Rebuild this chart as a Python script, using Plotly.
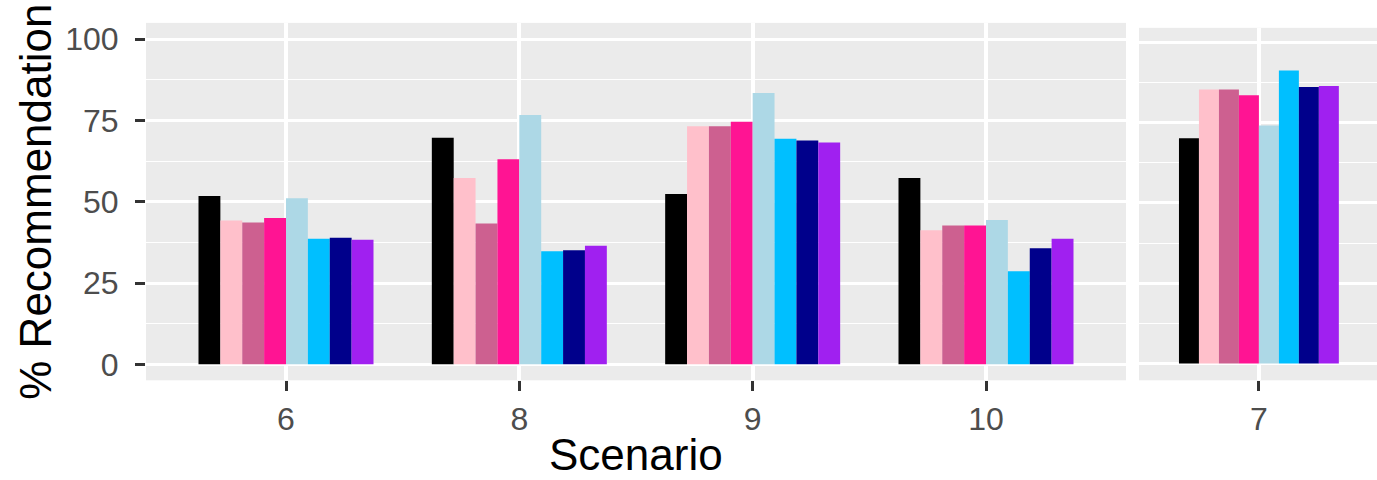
import plotly.graph_objects as go

W, H = 1377, 480

# ---- data ----
scenarios_main = ["6", "8", "9", "10"]
scenarios_side = ["7"]
series_names = ["black", "pink", "hotpink3", "deeppink", "lightblue", "deepskyblue", "darkblue", "purple"]
series_colors = ["#000000", "#FFC0CB", "#CD6090", "#FF1493", "#ADD8E6", "#00BFFF", "#00008B", "#A020F0"]

vals_black = [51.8, 69.7, 52.4, 57.3]
vals_pink = [44.2, 57.3, 73.2, 41.2]
vals_hotpink3 = [43.6, 43.3, 73.2, 42.7]
vals_deeppink = [45.0, 63.1, 74.6, 42.7]
vals_lightblue = [51.1, 76.7, 83.4, 44.4]
vals_deepskyblue = [38.6, 34.8, 69.4, 28.6]
vals_darkblue = [38.9, 35.1, 68.8, 35.7]
vals_purple = [38.3, 36.5, 68.2, 38.6]
main_values = [vals_black, vals_pink, vals_hotpink3, vals_deeppink,
               vals_lightblue, vals_deepskyblue, vals_darkblue, vals_purple]

side_values = [70.1, 85.3, 85.3, 83.5, 74.1, 91.2, 86.1, 86.4]

y_ticks = [0, 25, 50, 75, 100]

# ---- figure ----
fig = go.Figure()
for name, color, vals in zip(series_names, series_colors, main_values):
    fig.add_trace(go.Bar(x=scenarios_main, y=vals, name=name, marker_color=color,
                         marker_line_width=0, xaxis="x", yaxis="y", showlegend=False))
for name, color, v in zip(series_names, series_colors, side_values):
    fig.add_trace(go.Bar(x=scenarios_side, y=[v], name=name, marker_color=color,
                         marker_line_width=0, xaxis="x2", yaxis="y2", showlegend=False))

def px_x(p):
    return p / W

def px_y(p):
    return (H - p) / H

font_family = "Liberation Sans, Arial, sans-serif"
tick_font = dict(family=font_family, size=32, color="#4D4D4D")

grid = dict(showgrid=True, gridcolor="white", zeroline=False, showline=False)

fig.update_layout(
    width=W, height=H,
    margin=dict(l=0, r=0, t=0, b=0),
    paper_bgcolor="white",
    plot_bgcolor="#EBEBEB",
    barmode="group",
    bargap=0.25,
    bargroupgap=0,
    font=dict(family=font_family),
    xaxis=dict(domain=[px_x(146), px_x(1126)], anchor="y", type="category",
               range=[-0.6, 3.6], ticks="outside", ticklen=10, tickwidth=3,
               tickcolor="#333333", tickfont=tick_font, gridwidth=3.5, **grid),
    yaxis=dict(domain=[px_y(381.7), px_y(22)], anchor="x", range=[-4.9, 105.0],
               tickvals=y_ticks, ticks="outside", ticklen=10, tickwidth=3,
               tickcolor="#333333", tickfont=tick_font, gridwidth=2.5,
               ticklabelstandoff=10,
               minor=dict(tick0=0, dtick=12.5, showgrid=True, gridcolor="white",
                          gridwidth=1.4, ticks=""),
               **grid),
    xaxis2=dict(domain=[px_x(1139), 1.0], anchor="y2", type="category",
                range=[-0.5625, 0.554], ticks="outside", ticklen=10, tickwidth=3,
                tickcolor="#333333", tickfont=tick_font, gridwidth=3.5, **grid),
    yaxis2=dict(domain=[px_y(381.7), px_y(27)], anchor="x2", range=[-5.2, 104.5],
                tickvals=y_ticks, showticklabels=False, ticks="", gridwidth=2.5,
                minor=dict(tick0=0, dtick=12.5, showgrid=True, gridcolor="white",
                           gridwidth=1.4, ticks=""),
                **grid),
)

fig.add_annotation(text="Scenario", xref="paper", yref="paper",
                   x=px_x(636), y=px_y(456), xanchor="center", yanchor="middle",
                   showarrow=False, font=dict(family=font_family, size=44, color="black"))
fig.add_annotation(text="% Recommendation", xref="paper", yref="paper",
                   x=px_x(36), y=px_y(202), xanchor="center", yanchor="middle",
                   textangle=-90, showarrow=False,
                   font=dict(family=font_family, size=44, color="black"))

fig.write_html("out.html", config={"displayModeBar": False},
               post_script="document.body.style.margin='0px';")
